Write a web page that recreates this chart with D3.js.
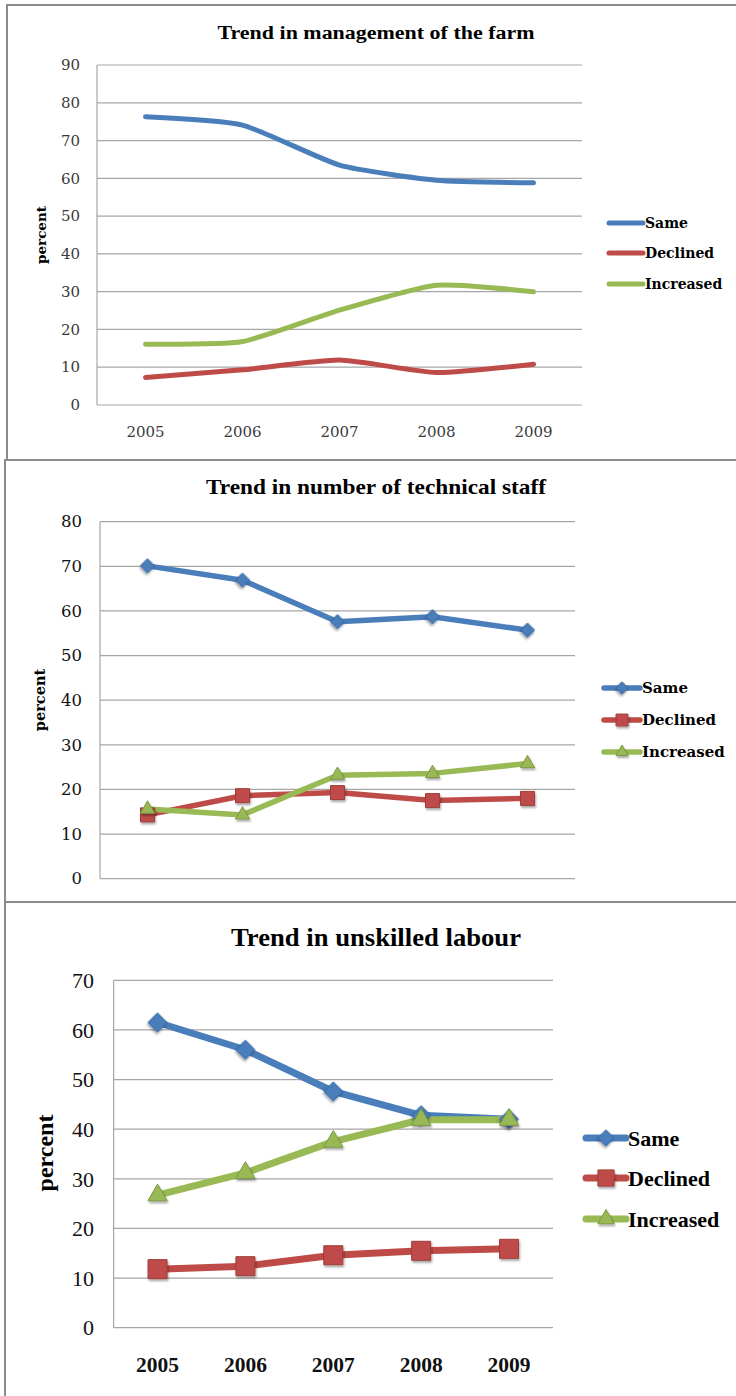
<!DOCTYPE html>
<html>
<head>
<meta charset="utf-8">
<script src="https://cdn.jsdelivr.net/npm/d3@7.9.0/dist/d3.min.js"></script>
<style>
  body { margin: 0; background: #fff; }
  svg { display: block; }
  text { font-family: "Liberation Serif", "Times New Roman", serif; }
</style>
</head>
<body>
<svg id="chart" width="736" height="1396"></svg>
<script>
// categories and legend
const years = ['2005', '2006', '2007', '2008', '2009'];
const seriesNames = ['Same', 'Declined', 'Increased'];
const seriesColors = ['#4a7ebb', '#be4b48', '#98b954'];
const markerStroke = ['#3b6aa3', '#a03d3a', '#7d9a42'];

// Trend in management of the farm
const mgmtSame = [76.3, 74.1, 63.5, 59.5, 58.8];
const mgmtDeclined = [7.3, 9.3, 11.9, 8.6, 10.8];
const mgmtIncreased = [16.1, 16.8, 25.1, 31.7, 30.0];
const mgmtTicks = [0, 10, 20, 30, 40, 50, 60, 70, 80, 90];

// Trend in number of technical staff
const techSame = [70.1, 66.9, 57.6, 58.7, 55.7];
const techDeclined = [14.3, 18.6, 19.3, 17.5, 18.0];
const techIncreased = [15.6, 14.3, 23.2, 23.6, 25.8];
const techTicks = [0, 10, 20, 30, 40, 50, 60, 70, 80];

// Trend in unskilled labour
const labourSame = [61.5, 56.0, 47.6, 42.8, 42.0];
const labourDeclined = [11.8, 12.4, 14.6, 15.5, 15.9];
const labourIncreased = [26.7, 31.2, 37.5, 41.9, 41.9];
const labourTicks = [0, 10, 20, 30, 40, 50, 60, 70];

const wide = '"DejaVu Serif", serif';
const narrow = '"Liberation Serif", serif';

const svg = d3.select('#chart');

// drop shadow for the markers
const defs = svg.append('defs');
defs.append('filter').attr('id', 'shadow')
  .attr('x', '-50%').attr('y', '-50%').attr('width', '200%').attr('height', '200%')
  .append('feDropShadow')
  .attr('dx', 1).attr('dy', 2).attr('stdDeviation', 1.2)
  .attr('flood-color', '#000').attr('flood-opacity', 0.35);

// panel frames
const frameColor = '#8c8c8c';
svg.append('path').attr('fill', 'none').attr('stroke', frameColor).attr('stroke-width', 2)
  .attr('d', 'M736,5 H7 V459');
svg.append('path').attr('fill', 'none').attr('stroke', frameColor).attr('stroke-width', 2)
  .attr('d', 'M736,460 H5 V902 H736');
svg.append('path').attr('fill', 'none').attr('stroke', frameColor).attr('stroke-width', 2)
  .attr('d', 'M5,902 V1396');

function markerPath(kind, size) {
  if (kind === 'diamond') {
    return d3.symbol(d3.symbolSquare, size * size / 2)();
  }
  if (kind === 'square') return d3.symbol(d3.symbolSquare, size * size)();
  return d3.symbol(d3.symbolTriangle, size * size * 0.45)();
}
const markerKinds = ['diamond', 'square', 'triangle'];

function drawMarker(g, kind, i, x, y, size) {
  g.append('path')
    .attr('d', markerPath(kind, size))
    .attr('transform', `translate(${x},${y})` + (kind === 'diamond' ? ' rotate(45)' : ''))
    .attr('fill', seriesColors[i])
    .attr('stroke', markerStroke[i])
    .attr('stroke-width', 1)
    .attr('filter', 'url(#shadow)');
}

function drawPanel(p) {
  const g = svg.append('g');
  const x = d3.scalePoint().domain(years).range([p.x0, p.x1]).padding(0.5);
  const y = d3.scaleLinear().domain([0, d3.max(p.ticks)]).range([p.yBottom, p.yTop]);

  // gridlines
  g.append('g').selectAll('line').data(p.ticks).join('line')
    .attr('x1', p.x0).attr('x2', p.x1)
    .attr('y1', d => y(d)).attr('y2', d => y(d))
    .attr('stroke', '#a6a6a6').attr('stroke-width', 1.2);
  g.append('line')
    .attr('x1', p.x0).attr('x2', p.x0).attr('y1', p.yTop).attr('y2', p.yBottom)
    .attr('stroke', '#a6a6a6').attr('stroke-width', 1.2);

  // y tick labels
  g.append('g').selectAll('text').data(p.ticks).join('text')
    .attr('x', p.tickRight).attr('y', d => y(d))
    .attr('dy', '0.35em').attr('text-anchor', 'end')
    .style('font-family', p.font)
    .attr('font-size', p.tickSize).attr('fill', p.tickColor)
    .text(d => d);

  // x labels
  if (p.xLabelY) {
    g.append('g').selectAll('text').data(years).join('text')
      .attr('x', d => x(d)).attr('y', p.xLabelY)
      .attr('dy', '0.35em').attr('text-anchor', 'middle')
      .style('font-family', p.font)
      .attr('font-size', p.xLabelSize).attr('fill', p.tickColor)
      .attr('font-weight', p.xLabelWeight)
      .text(d => d);
  }

  // title
  g.append('text')
    .attr('x', p.titleX).attr('y', p.titleY).attr('dy', '0.35em')
    .attr('text-anchor', 'middle').attr('font-weight', 'bold')
    .attr('font-size', p.titleSize)
    .attr('textLength', p.titleWidth).attr('lengthAdjust', 'spacingAndGlyphs')
    .text(p.title);

  // axis title
  g.append('text')
    .attr('transform', `translate(${p.yTitleX},${p.yTitleY}) rotate(-90)`)
    .attr('dy', '0.35em').attr('text-anchor', 'middle')
    .style('font-family', p.font)
    .attr('font-weight', 'bold').attr('font-size', p.yTitleSize)
    .text('percent');

  // series lines
  const line = d3.line()
    .x((d, j) => x(years[j]))
    .y(d => y(d))
    .curve(p.smooth ? d3.curveCardinal.tension(0.45) : d3.curveLinear);

  p.series.forEach((vals, i) => {
    g.append('path')
      .attr('d', line(vals))
      .attr('fill', 'none')
      .attr('stroke', seriesColors[i])
      .attr('stroke-width', p.lineWidth)
      .attr('stroke-linecap', 'round')
      .attr('stroke-linejoin', 'round');
  });
  if (p.markerSize) {
    p.series.forEach((vals, i) => {
      vals.forEach((v, j) => drawMarker(g, markerKinds[i], i, x(years[j]), y(v), p.markerSize));
    });
  }

  // legend
  seriesNames.forEach((name, i) => {
    const ly = p.legendY[i];
    g.append('line')
      .attr('x1', p.legendX0).attr('x2', p.legendX1)
      .attr('y1', ly).attr('y2', ly)
      .attr('stroke', seriesColors[i]).attr('stroke-width', p.lineWidth)
      .attr('stroke-linecap', 'round');
    if (p.markerSize) {
      drawMarker(g, markerKinds[i], i, (p.legendX0 + p.legendX1) / 2, ly, p.markerSize * 0.85);
    }
    g.append('text')
      .attr('x', p.legendX1 + 2).attr('y', ly).attr('dy', '0.35em')
      .style('font-family', p.font)
      .attr('font-weight', 'bold').attr('font-size', p.legendSize)
      .text(name);
  });
}

drawPanel({
  title: 'Trend in management of the farm', titleX: 376, titleY: 33, titleSize: 18, titleWidth: 317,
  series: [mgmtSame, mgmtDeclined, mgmtIncreased], ticks: mgmtTicks, font: wide,
  x0: 97, x1: 582, yTop: 65, yBottom: 405,
  tickRight: 80, tickSize: 15, tickColor: '#3a3a3a',
  xLabelY: 432, xLabelSize: 15, xLabelWeight: 'normal',
  yTitleX: 41, yTitleY: 235, yTitleSize: 13.5,
  smooth: true, lineWidth: 5, markerSize: 0,
  legendX0: 609, legendX1: 643, legendY: [223, 253, 284], legendSize: 14
});

drawPanel({
  title: 'Trend in number of technical staff', titleX: 376, titleY: 487, titleSize: 21, titleWidth: 340,
  series: [techSame, techDeclined, techIncreased], ticks: techTicks, font: wide,
  x0: 100, x1: 575, yTop: 521.7, yBottom: 878.7,
  tickRight: 82, tickSize: 16.5, tickColor: '#111',
  xLabelY: null,
  yTitleX: 40, yTitleY: 700, yTitleSize: 14.5,
  smooth: false, lineWidth: 5.5, markerSize: 14,
  legendX0: 604, legendX1: 640, legendY: [688, 720, 752], legendSize: 15
});

drawPanel({
  title: 'Trend in unskilled labour', titleX: 376, titleY: 937, titleSize: 25, titleWidth: 290,
  series: [labourSame, labourDeclined, labourIncreased], ticks: labourTicks, font: narrow,
  x0: 113.6, x1: 553, yTop: 980.3, yBottom: 1327.7,
  tickRight: 94, tickSize: 22, tickColor: '#111',
  xLabelY: 1364, xLabelSize: 21.5, xLabelWeight: 'bold',
  yTitleX: 45, yTitleY: 1153, yTitleSize: 24,
  smooth: false, lineWidth: 7, markerSize: 19,
  legendX0: 586, legendX1: 626, legendY: [1138, 1178, 1219], legendSize: 22
});
</script>
</body>
</html>
